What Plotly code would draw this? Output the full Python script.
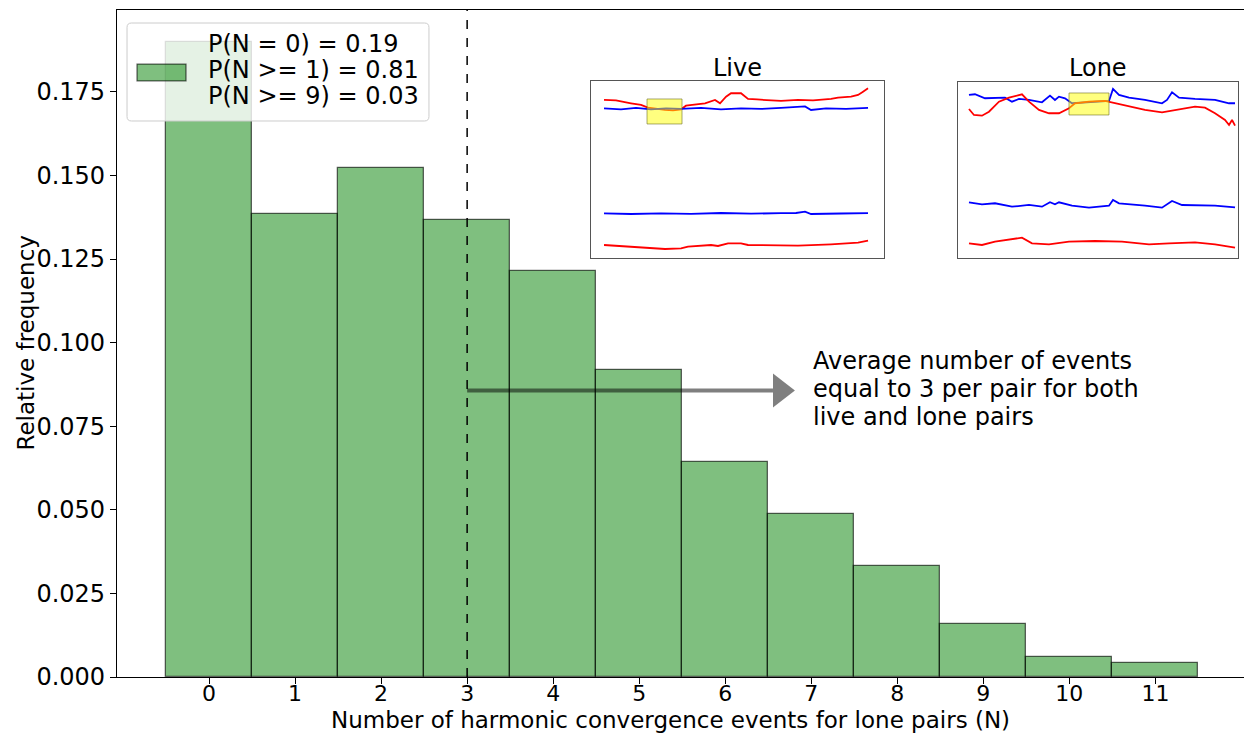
import plotly.graph_objects as go

# ---------------- data ----------------
events = list(range(12))
rel_freq = [0.190, 0.1386, 0.1523, 0.1368, 0.1213, 0.0918, 0.0644, 0.0489, 0.0331, 0.0158, 0.0060, 0.0042]
tick_labels = [str(v) for v in events]
legend_lines = ["P(N = 0) = 0.19", "P(N >= 1) = 0.81", "P(N >= 9) = 0.03"]
avg_events = 3
arrow_end = 6.81
arrow_y = 0.0857
note_lines = ["Average number of events", "equal to 3 per pair for both", "live and lone pairs"]

# inset "Live" traces (time index, signal)
live_red_top_t = [13, 25, 40, 50, 57, 66, 74, 82, 90, 95, 104, 114, 124, 129, 135, 140, 150, 157, 166, 174, 190, 207, 222, 240, 247, 260, 267, 272, 277]
live_red_top_v = [158, 157.5, 154.7, 153, 150.3, 149, 148, 147.5, 148.7, 152.3, 153.5, 154.7, 158, 154.7, 161.3, 164.7, 164.7, 159, 158.5, 158, 157, 158, 157.5, 159, 160.3, 161.3, 163, 166.3, 169.7]
live_blue_top_t = [13, 30, 45, 60, 75, 90, 110, 130, 150, 170, 190, 205, 214, 220, 235, 255, 277]
live_blue_top_v = [149.5, 148.5, 150, 148.5, 149.5, 149, 150, 148.5, 149.5, 149, 150, 150.5, 151.5, 148, 149.5, 149, 150]
live_blue_bot_t = [13, 40, 70, 100, 130, 160, 190, 205, 214, 220, 250, 277]
live_blue_bot_v = [44.7, 44, 44.7, 44.2, 45, 44.3, 44.8, 45, 46.3, 44, 44.5, 44.8]
live_red_bot_t = [13, 40, 60, 74, 90, 97, 120, 127, 137, 150, 157, 180, 207, 240, 267, 277]
live_red_bot_v = [13, 11.3, 10, 9, 9.7, 11.3, 13, 12, 14.7, 14.7, 13, 12.5, 12.3, 13.7, 15.3, 17.3]
live_box = [56, 91, 134, 159]

# inset "Lone" traces
lone_blue_top_t = [11, 17, 27, 37, 47, 54, 61, 71, 84, 92, 97, 101, 107, 114, 131, 147, 151, 155, 161, 171, 187, 204, 209, 214, 221, 237, 257, 271, 277]
lone_blue_top_v = [163, 163.7, 159.7, 160.3, 160.3, 156.3, 159, 158, 155.7, 162.3, 158, 161.3, 159.7, 154.7, 155.7, 156.3, 157, 169, 163, 160.3, 158, 154.7, 158, 165.7, 160.3, 159, 158, 154.7, 154.7]
lone_red_top_t = [11, 16, 24, 31, 41, 51, 64, 71, 81, 91, 101, 111, 117, 131, 147, 157, 171, 187, 204, 217, 237, 247, 257, 267, 271, 274, 277]
lone_red_top_v = [149, 143, 142.3, 146.3, 156.3, 160.3, 163.7, 156.3, 148, 144.7, 144.7, 149.7, 154.7, 156.3, 157, 154.7, 151.3, 148, 145.7, 148, 151.3, 150.3, 144.7, 138, 133, 138, 132.3]
lone_blue_bot_t = [11, 24, 37, 54, 71, 84, 92, 97, 101, 114, 131, 151, 155, 161, 187, 204, 214, 224, 257, 277]
lone_blue_bot_v = [55.7, 53.7, 54.7, 51.3, 53, 51.3, 55.7, 53.7, 55.7, 52.3, 50.3, 52.3, 58, 54.7, 52.3, 50.3, 57, 53, 52.3, 50.7]
lone_red_bot_t = [11, 24, 37, 54, 64, 74, 91, 111, 137, 164, 191, 211, 237, 257, 271, 277]
lone_red_bot_v = [14.7, 13, 16.3, 19, 20.3, 14.7, 13.7, 16.3, 17, 16.3, 13.7, 14.7, 15.7, 13.7, 11.3, 10.3]
lone_box = [111, 151, 143, 165]

FONT = "DejaVu Sans"
FS = 24
BAR_FILL = "rgba(0,128,0,0.5)"
BAR_EDGE = "rgba(0,0,0,0.6)"

fig = go.Figure()
fig.add_trace(go.Bar(x=events, y=rel_freq, width=1.0,
                     marker=dict(color=BAR_FILL, line=dict(color=BAR_EDGE, width=1.3)),
                     showlegend=False, xaxis="x", yaxis="y"))

def add_line(t, v, color, xa, ya):
    fig.add_trace(go.Scatter(x=t, y=v, mode="lines", line=dict(color=color, width=1.8),
                             showlegend=False, xaxis=xa, yaxis=ya))

add_line(live_red_top_t, live_red_top_v, "#ff0000", "x2", "y2")
add_line(live_blue_top_t, live_blue_top_v, "#0000ff", "x2", "y2")
add_line(live_blue_bot_t, live_blue_bot_v, "#0000ff", "x2", "y2")
add_line(live_red_bot_t, live_red_bot_v, "#ff0000", "x2", "y2")
add_line(lone_blue_top_t, lone_blue_top_v, "#0000ff", "x3", "y3")
add_line(lone_red_top_t, lone_red_top_v, "#ff0000", "x3", "y3")
add_line(lone_blue_bot_t, lone_blue_bot_v, "#0000ff", "x3", "y3")
add_line(lone_red_bot_t, lone_red_bot_v, "#ff0000", "x3", "y3")

shapes = []
# dashed mean line
shapes.append(dict(type="line", xref="x", yref="y domain", x0=avg_events, x1=avg_events, y0=0, y1=1,
                   line=dict(color="black", width=1.5, dash="dash")))
# arrow shaft and head
head_len = 0.255
head_half = 0.0051
shapes.append(dict(type="line", xref="x", yref="y", x0=avg_events, x1=arrow_end - head_len,
                   y0=arrow_y, y1=arrow_y, line=dict(color="rgba(0,0,0,0.5)", width=4)))
shapes.append(dict(type="path", xref="x", yref="y",
                   path=f"M {arrow_end-head_len},{arrow_y-head_half} L {arrow_end-head_len},{arrow_y+head_half} L {arrow_end},{arrow_y} Z",
                   fillcolor="rgba(0,0,0,0.5)", line=dict(width=0)))
# yellow boxes
shapes.append(dict(type="rect", xref="x2", yref="y2", x0=live_box[0], x1=live_box[1], y0=live_box[2], y1=live_box[3],
                   fillcolor="rgba(255,255,0,0.5)", line=dict(color="rgba(110,110,40,0.6)", width=1)))
shapes.append(dict(type="rect", xref="x3", yref="y3", x0=lone_box[0], x1=lone_box[1], y0=lone_box[2], y1=lone_box[3],
                   fillcolor="rgba(255,255,0,0.5)", line=dict(color="rgba(110,110,40,0.6)", width=1)))

# legend frame (rounded) in paper coords
lx0, lx1, ly0, ly1 = 0.0089, 0.2768, 0.8336, 0.9805
rx, ry = 0.004, 0.0066
shapes.append(dict(type="path", xref="paper", yref="paper",
                   path=(f"M {lx0+rx},{ly0} L {lx1-rx},{ly0} Q {lx1},{ly0} {lx1},{ly0+ry} "
                         f"L {lx1},{ly1-ry} Q {lx1},{ly1} {lx1-rx},{ly1} L {lx0+rx},{ly1} "
                         f"Q {lx0},{ly1} {lx0},{ly1-ry} L {lx0},{ly0+ry} Q {lx0},{ly0} {lx0+rx},{ly0} Z"),
                   fillcolor="rgba(255,255,255,0.8)", line=dict(color="rgba(204,204,204,1)", width=1)))
shapes.append(dict(type="rect", xref="paper", yref="paper", x0=0.0178, x1=0.0612, y0=0.8936, y1=0.9190,
                   fillcolor=BAR_FILL, line=dict(color=BAR_EDGE, width=1.3)))

annotations = []
for i, txt in enumerate(legend_lines):
    annotations.append(dict(text=txt, xref="paper", yref="paper", x=0.0790, y=(677 - 44 - i * 26) / 667,
                            xanchor="left", yanchor="middle", showarrow=False,
                            font=dict(family=FONT, size=FS, color="black")))
for i, txt in enumerate(note_lines):
    annotations.append(dict(text=txt, xref="x", yref="paper", x=7.0, y=(677 - 361 - i * 28) / 667,
                            xanchor="left", yanchor="middle", showarrow=False,
                            font=dict(family=FONT, size=FS, color="black")))
annotations.append(dict(text="Live", xref="x2 domain", yref="paper", x=0.5, y=0.913, xanchor="center",
                        yanchor="middle", showarrow=False, font=dict(family=FONT, size=FS, color="black")))
annotations.append(dict(text="Lone", xref="x3 domain", yref="paper", x=0.5, y=0.913, xanchor="center",
                        yanchor="middle", showarrow=False, font=dict(family=FONT, size=FS, color="black")))
annotations.append(dict(text="Relative frequency", xref="paper", yref="paper", x=(25 - 117) / 1127, y=0.5,
                        xanchor="center", yanchor="middle", textangle=-90, showarrow=False,
                        font=dict(family=FONT, size=23, color="black")))
annotations.append(dict(text="Number of harmonic convergence events for lone pairs (N)", xref="paper", yref="paper",
                        x=0.4907, y=(677 - 720) / 667, xanchor="center", yanchor="middle", showarrow=False,
                        font=dict(family=FONT, size=23, color="black")))

inset_axis = dict(showticklabels=False, ticks="", showgrid=False, zeroline=False,
                  showline=True, mirror=True, linecolor="#555555", linewidth=1)

fig.update_layout(
    width=1244, height=734,
    margin=dict(l=117, r=0, t=10, b=57),
    paper_bgcolor="white", plot_bgcolor="white",
    font=dict(family=FONT, size=FS, color="black"),
    bargap=0,
    xaxis=dict(range=[-1.07, 12.03], tickmode="array", tickvals=events, ticktext=tick_labels,
               showgrid=False, zeroline=False, showline=True, mirror=True, linecolor="black", linewidth=1.2,
               ticks="outside", ticklen=6, tickwidth=1.2, tickcolor="black", ticklabelstandoff=-10,
               tickfont=dict(family=FONT, size=22)),
    yaxis=dict(range=[0, 0.1995], tickvals=[0, 0.025, 0.05, 0.075, 0.1, 0.125, 0.15, 0.175],
               tickformat=".3f", showgrid=False, zeroline=False, showline=True, linecolor="black", linewidth=1.2,
               ticks="outside", ticklen=6, tickwidth=1.2, tickcolor="black",
               tickfont=dict(family=FONT, size=FS)),
    xaxis2=dict(domain=[0.4206, 0.6806], range=[0, 293], anchor="y2", **inset_axis),
    yaxis2=dict(domain=[0.6282, 0.8936], range=[0, 177], anchor="x2", **inset_axis),
    xaxis3=dict(domain=[0.7462, 0.9947], range=[0, 280], anchor="y3", **inset_axis),
    yaxis3=dict(domain=[0.6282, 0.8921], range=[0, 176], anchor="x3", **inset_axis),
    shapes=shapes,
    annotations=annotations,
)

fig.write_html("out.html")
